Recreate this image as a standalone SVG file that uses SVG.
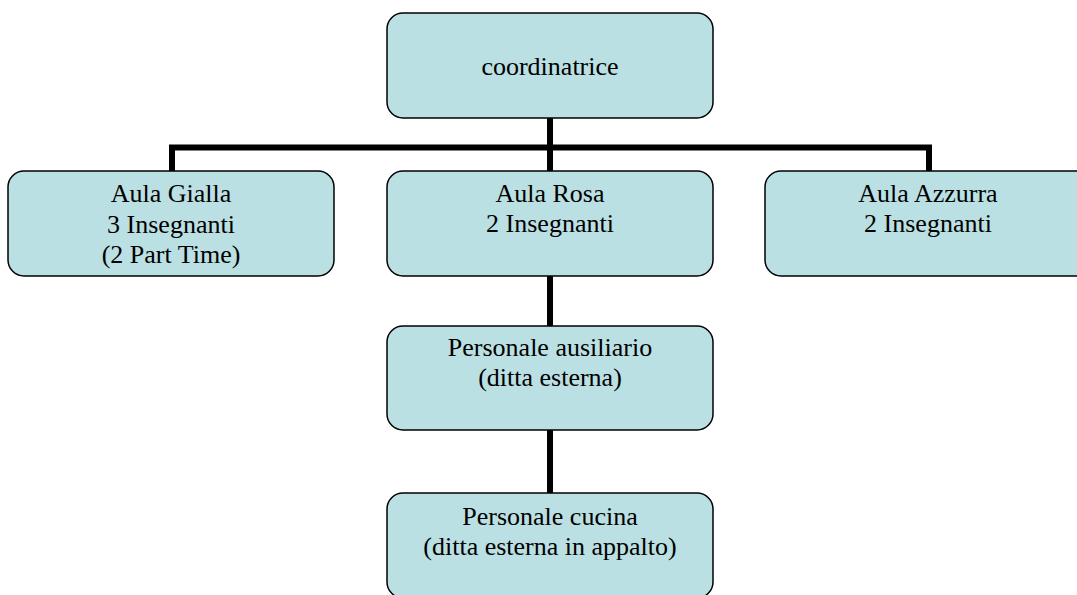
<svg xmlns="http://www.w3.org/2000/svg" width="1077" height="595" viewBox="0 0 1077 595">
<style>
.box{fill:#BBE0E3;stroke:#000;stroke-width:1.5}
.t{font-family:"Liberation Serif","Times New Roman",serif;font-size:26px;fill:#000;text-anchor:middle}
.c{stroke:#000;stroke-width:6;fill:none}
</style>
<rect width="1077" height="595" fill="#fff"/>
<g id="connectors">
<line class="c" x1="550" y1="118" x2="550" y2="171"/>
<polyline class="c" points="172,171 172,147.5 929,147.5 929,171"/>
<line class="c" x1="550" y1="276" x2="550" y2="326"/>
<line class="c" x1="550" y1="430" x2="550" y2="493"/>
</g>
<g id="coordinatrice">
<rect class="box" x="387" y="13" width="326" height="105" rx="16"/>
<text class="t" x="550" y="75">coordinatrice</text>
</g>
<g id="aula-gialla">
<rect class="box" x="8" y="171" width="326" height="105" rx="16"/>
<text class="t" x="171" y="202">Aula Gialla</text>
<text class="t" x="171" y="232.5">3 Insegnanti</text>
<text class="t" x="171" y="263">(2 Part Time)</text>
</g>
<g id="aula-rosa">
<rect class="box" x="387" y="171" width="326" height="105" rx="16"/>
<text class="t" x="550" y="202">Aula Rosa</text>
<text class="t" x="550" y="232">2 Insegnanti</text>
</g>
<g id="aula-azzurra">
<rect class="box" x="765" y="171" width="326" height="105" rx="16"/>
<text class="t" x="928" y="202">Aula Azzurra</text>
<text class="t" x="928" y="232">2 Insegnanti</text>
</g>
<g id="personale-ausiliario">
<rect class="box" x="387" y="326" width="326" height="104" rx="16"/>
<text class="t" x="550" y="356">Personale ausiliario</text>
<text class="t" x="550" y="386">(ditta esterna)</text>
</g>
<g id="personale-cucina">
<rect class="box" x="387" y="493" width="326" height="105" rx="16"/>
<text class="t" x="550" y="525">Personale cucina</text>
<text class="t" x="550" y="555">(ditta esterna in appalto)</text>
</g>
</svg>
